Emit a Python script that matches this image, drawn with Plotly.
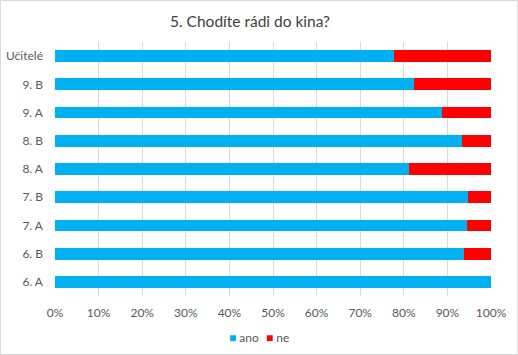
import plotly.graph_objects as go

categories = ["6. A", "6. B", "7. A", "7. B", "8. A", "8. B", "9. A", "9. B", "Učitelé"]
ano = [100.0, 93.7, 94.5, 94.7, 81.2, 93.3, 88.8, 82.4, 77.7]
ne = [0.0, 6.3, 5.5, 5.3, 18.8, 6.7, 11.2, 17.6, 22.3]
tick_vals = [0, 10, 20, 30, 40, 50, 60, 70, 80, 90, 100]
tick_text = [f"{v}%" for v in tick_vals]
title_text = "5. Chodíte rádi do kina?"
series_names = ["ano", "ne"]
series_colors = ["#00B0F0", "#FF0000"]

W, H = 518, 355
L, R, T, B = 55, 27.3, 42, 59
pw, ph = W - L - R, H - T - B
FONT = "Lato"

fig = go.Figure()
for name, vals, col in zip(series_names, [ano, ne], series_colors):
    fig.add_trace(go.Bar(y=categories, x=vals, name=name, orientation="h",
                         marker=dict(color=col, line=dict(width=0)),
                         showlegend=False))

# compact legend drawn as text (Excel-style small squares)
legend_x = [232, 269]
annotations = []
for name, col, lx in zip(series_names, series_colors, legend_x):
    annotations.append(dict(
        text=f"<span style='color:{col}'>■</span> {name}",
        xref="paper", yref="paper",
        x=(lx - 5 - L) / pw, xanchor="left",
        y=-(337 - T - ph) / ph, yanchor="middle",
        showarrow=False,
        font=dict(family=FONT, size=12, color="#595959")))

fig.update_layout(
    width=W, height=H,
    margin=dict(l=L, r=R, t=T, b=B, pad=0, autoexpand=False),
    barmode="stack",
    bargap=0.585,
    paper_bgcolor="white",
    plot_bgcolor="white",
    font=dict(family=FONT, size=12, color="#595959"),
    title=dict(text=title_text, x=250 / W, xanchor="center", xref="container",
               y=1 - 22 / H, yanchor="middle", yref="container",
               font=dict(family=FONT, size=15.5, color="#404040")),
    showlegend=False,
    annotations=annotations,
    xaxis=dict(range=[0, 100], tickvals=tick_vals, ticktext=tick_text,
               showgrid=True, gridcolor="#D9D9D9", gridwidth=1, automargin=False,
               zeroline=False, showline=False, ticks="", ticklabelstandoff=8,
               tickfont=dict(family=FONT, size=12, color="#595959"), fixedrange=True),
    yaxis=dict(showgrid=False, zeroline=False, showline=False, ticks="",
               ticklabelstandoff=11, automargin=False,
               tickfont=dict(family=FONT, size=12, color="#595959")),
    shapes=[dict(type="rect", xref="paper", yref="paper",
                 x0=(-L + 0.5) / pw, x1=(W - L - 0.5) / pw,
                 y0=-(B - 0.5) / ph, y1=(ph + T - 0.5) / ph,
                 line=dict(color="#D9D9D9", width=1), layer="below")],
)

fig.write_html("out.html",
               config={"displayModeBar": False},
               post_script="document.body.style.margin='0';document.body.style.overflow='hidden';")
